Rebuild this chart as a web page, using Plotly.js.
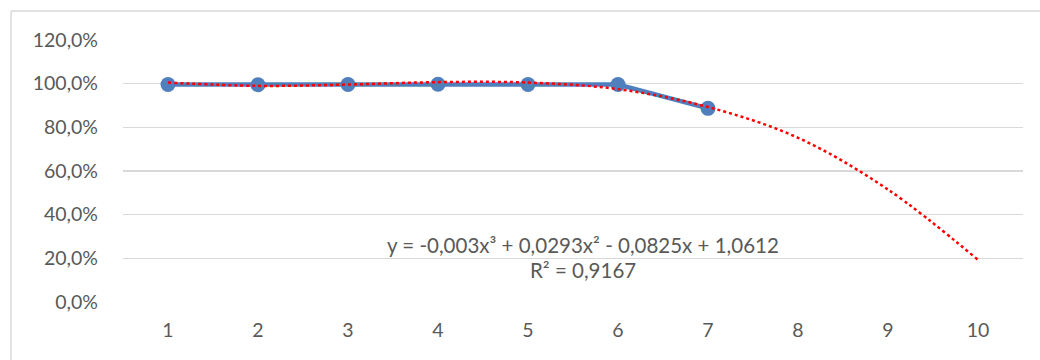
<!DOCTYPE html>
<html>
<head>
<meta charset="utf-8">
<script src="https://cdn.plot.ly/plotly-3.0.1.min.js"></script>
<style>html,body{margin:0;padding:0;background:#fff;}#chart{width:1040px;height:360px;}</style>
</head>
<body>
<div id="chart"></div>
<script>
var categories = [1, 2, 3, 4, 5, 6, 7, 8, 9, 10];
var seriesX = [1, 2, 3, 4, 5, 6, 7];
var seriesValues = [0.996, 0.995, 0.996, 0.997, 0.996, 0.996, 0.887];
var trendValues = [1.005, 0.990, 0.996, 1.007, 1.005, 0.975, 0.893, 0.752, 0.515, 0.193];
var yTicks = [0, 0.2, 0.4, 0.6, 0.8, 1.0, 1.2];
var equationText = "y = -0,003x³ + 0,0293x² - 0,0825x + 1,0612";
var r2Text = "R² = 0,9167";

var font = "Lato, 'Open Sans', sans-serif";
var fs = 19.5;
var fsAnn = 20.5;
var traces = [
  {
    x: seriesX, y: seriesValues, type: 'scatter', mode: 'lines+markers',
    line: {color: '#4f7fbd', width: 4.5},
    marker: {color: '#4f7fbd', size: 15},
    hoverinfo: 'skip', showlegend: false
  },
  {
    x: categories, y: trendValues, type: 'scatter', mode: 'lines',
    line: {color: '#ff0000', width: 2.5, dash: 'dot', shape: 'spline', smoothing: 1},
    hoverinfo: 'skip', showlegend: false
  }
];

var layout = {
  width: 1040, height: 360,
  margin: {l: 123, r: 17, t: 40, b: 58},
  paper_bgcolor: '#ffffff', plot_bgcolor: '#ffffff',
  separators: ',.',
  font: {family: font, color: '#595959', size: fs},
  xaxis: {
    range: [0.5, 10.5], tickvals: categories, ticktext: categories.map(String),
    showgrid: false, zeroline: false, showline: false, ticks: '',
    tickfont: {family: font, size: fs, color: '#595959'}, ticklabelstandoff: 14
  },
  yaxis: {
    range: [0, 1.2], tickvals: yTicks, tickformat: '.1%',
    showgrid: true, gridcolor: '#d9d9d9', gridwidth: 1.5, zeroline: false, showline: false, ticks: '',
    tickfont: {family: font, size: fs, color: '#595959'}, ticklabelstandoff: 24
  },
  shapes: [
    {type: 'line', xref: 'paper', yref: 'paper', x0: -0.1244, x1: 1.03, y0: 1.1107, y1: 1.1107, line: {color: '#d9d9d9', width: 1.5}},
    {type: 'line', xref: 'paper', yref: 'paper', x0: -0.1244, x1: -0.1244, y0: 1.1107, y1: -0.25, line: {color: '#d9d9d9', width: 1.5}}
  ],
  annotations: [
    {x: 5.61, y: 0.262, xref: 'x', yref: 'y', text: equationText, showarrow: false, font: {family: font, size: fsAnn, color: '#595959'}},
    {x: 5.61, y: 0.147, xref: 'x', yref: 'y', text: r2Text, showarrow: false, font: {family: font, size: fsAnn, color: '#595959'}}
  ]
};

Plotly.newPlot('chart', traces, layout, {displayModeBar: false, staticPlot: true});
</script>
</body>
</html>
